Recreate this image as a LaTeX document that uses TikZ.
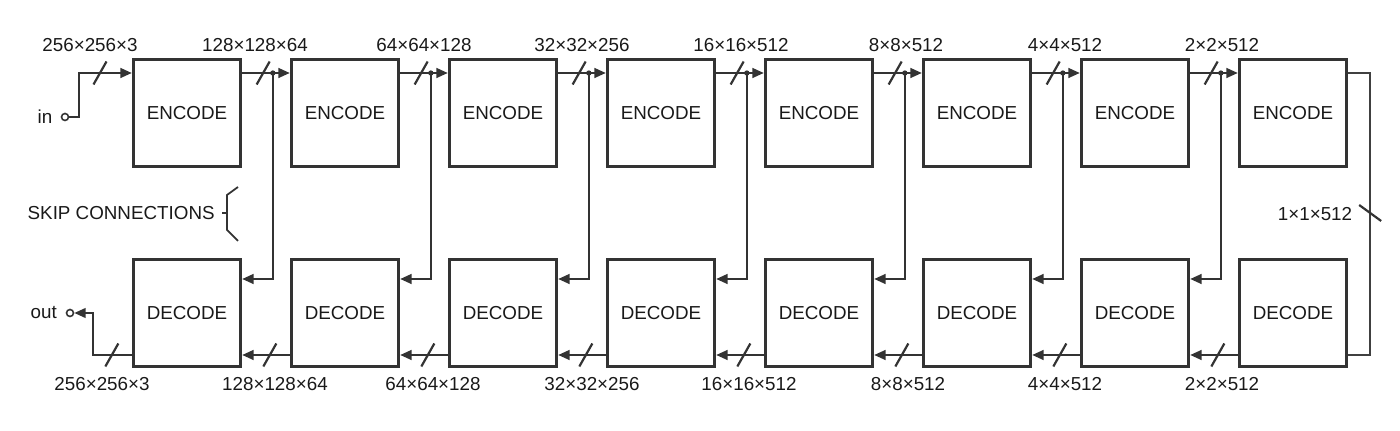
\documentclass[tikz,border=0pt]{standalone}
\usepackage{fontspec}
\setmainfont{Liberation Sans}
\usetikzlibrary{calc,positioning,arrows.meta}
\def\buscut#1{\draw[cut] #1 ++(-6.5,11.5) -- ++(13,-23);}
\def\backcut#1{\draw[cut] #1 ++(-11,-8) -- ++(22,16);}

\begin{document}
\begin{tikzpicture}[x=0.02cm, y=-0.02cm,
	block/.style={draw=black!80, line width=1.9pt, minimum width=2.14cm, minimum height=2.14cm, inner sep=0pt, font=\fontsize{10.7}{12}\selectfont, text=black!90},
	conn/.style={draw=black!80, line width=1.25pt, -{Triangle[length=6.5pt,width=5.5pt]}},
	wire/.style={draw=black!80, line width=1.25pt},
	cut/.style={draw=black!80, line width=1.25pt},
	dim/.style={font=\fontsize{10.7}{12}\selectfont, text=black!90, inner sep=0pt},
	port/.style={draw=black!80, line width=0.9pt, circle, minimum size=0.14cm, inner sep=0pt}]
			%%%%% START %%%%%
			\useasboundingbox (0,0) rectangle (1400,431);
			
			\coordinate (erow) at (0,73);
			\coordinate (srow) at (0,279);
			\coordinate (drow) at (0,355);
			
			\node[block] (e0) at (187,113) {ENCODE};
			\node[block] (e1) at (345,113) {ENCODE};
			\node[block] (e2) at (503,113) {ENCODE};
			\node[block] (e3) at (661,113) {ENCODE};
			\node[block] (e4) at (819,113) {ENCODE};
			\node[block] (e5) at (977,113) {ENCODE};
			\node[block] (e6) at (1135,113) {ENCODE};
			\node[block] (e7) at (1293,113) {ENCODE};
			
			\node[block] (d0) at (187,313) {DECODE};
			\node[block] (d1) at (345,313) {DECODE};
			\node[block] (d2) at (503,313) {DECODE};
			\node[block] (d3) at (661,313) {DECODE};
			\node[block] (d4) at (819,313) {DECODE};
			\node[block] (d5) at (977,313) {DECODE};
			\node[block] (d6) at (1135,313) {DECODE};
			\node[block] (d7) at (1293,313) {DECODE};
			
			% input and output
			\node[port] (inport) at (65,117) {};
			\node[dim, left=0.16cm of inport] (inlbl) {in};
			\draw[conn] (inport.east) -- ++(9.5,0) |- (e0.west |- erow);
			\buscut{(100,73)}
			
			\node[port] (outport) at (70,313) {};
			\node[dim, left=0.17cm of outport] (outlbl) {out};
			\draw[conn] (d0.west |- drow) -- ++(-39,0) |- (outport);
			\buscut{($(d0.west |- drow)+(-20,0)$)}
			
			% encoder chain
			\draw[conn] (e0.east |- erow) -- (e1.west |- erow);
			\draw[conn] (e1.east |- erow) -- (e2.west |- erow);
			\draw[conn] (e2.east |- erow) -- (e3.west |- erow);
			\draw[conn] (e3.east |- erow) -- (e4.west |- erow);
			\draw[conn] (e4.east |- erow) -- (e5.west |- erow);
			\draw[conn] (e5.east |- erow) -- (e6.west |- erow);
			\draw[conn] (e6.east |- erow) -- (e7.west |- erow);
			\buscut{($(e0.east |- erow)+(21,0)$)}
			\buscut{($(e1.east |- erow)+(21,0)$)}
			\buscut{($(e2.east |- erow)+(21,0)$)}
			\buscut{($(e3.east |- erow)+(21,0)$)}
			\buscut{($(e4.east |- erow)+(21,0)$)}
			\buscut{($(e5.east |- erow)+(21,0)$)}
			\buscut{($(e6.east |- erow)+(21,0)$)}
			
			% decoder chain
			\draw[conn] (d1.west |- drow) -- (d0.east |- drow);
			\draw[conn] (d2.west |- drow) -- (d1.east |- drow);
			\draw[conn] (d3.west |- drow) -- (d2.east |- drow);
			\draw[conn] (d4.west |- drow) -- (d3.east |- drow);
			\draw[conn] (d5.west |- drow) -- (d4.east |- drow);
			\draw[conn] (d6.west |- drow) -- (d5.east |- drow);
			\draw[conn] (d7.west |- drow) -- (d6.east |- drow);
			\buscut{($(d1.west |- drow)+(-20,0)$)}
			\buscut{($(d2.west |- drow)+(-20,0)$)}
			\buscut{($(d3.west |- drow)+(-20,0)$)}
			\buscut{($(d4.west |- drow)+(-20,0)$)}
			\buscut{($(d5.west |- drow)+(-20,0)$)}
			\buscut{($(d6.west |- drow)+(-20,0)$)}
			\buscut{($(d7.west |- drow)+(-20,0)$)}
			
			% skip connections
			\coordinate (s0) at ($(e1.west |- erow)+(-17,0)$);
			\coordinate (s1) at ($(e2.west |- erow)+(-17,0)$);
			\coordinate (s2) at ($(e3.west |- erow)+(-17,0)$);
			\coordinate (s3) at ($(e4.west |- erow)+(-17,0)$);
			\coordinate (s4) at ($(e5.west |- erow)+(-17,0)$);
			\coordinate (s5) at ($(e6.west |- erow)+(-17,0)$);
			\coordinate (s6) at ($(e7.west |- erow)+(-17,0)$);
			\draw[conn] (s0) |- (d0.east |- srow);
			\draw[conn] (s1) |- (d1.east |- srow);
			\draw[conn] (s2) |- (d2.east |- srow);
			\draw[conn] (s3) |- (d3.east |- srow);
			\draw[conn] (s4) |- (d4.east |- srow);
			\draw[conn] (s5) |- (d5.east |- srow);
			\draw[conn] (s6) |- (d6.east |- srow);
			\fill[black!80] (s0) circle (1.5pt) (s1) circle (1.5pt) (s2) circle (1.5pt) (s3) circle (1.5pt);
			\fill[black!80] (s4) circle (1.5pt) (s5) circle (1.5pt) (s6) circle (1.5pt);
			
			% bottleneck
			\coordinate (bturn) at ($(e7.east)+(22,0)$);
			\draw[black!75, line width=0.8pt] (e7.east |- erow) -| (bturn) |- (d7.east |- drow);
			\backcut{($(e7.east)!0.5!(d7.east)+(22,0)$)}
			\node[dim] (bnlbl) at (1315,214) {1×1×512};
			
			% sizes
			\node[dim] (t0) at (90,45) {256×256×3};
			\node[dim] (t1) at (255,45) {128×128×64};
			\node[dim] (t2) at (424,45) {64×64×128};
			\node[dim] (t3) at (582,45) {32×32×256};
			\node[dim] (t4) at (741,45) {16×16×512};
			\node[dim] (t5) at (906,45) {8×8×512};
			\node[dim] (t6) at (1065,45) {4×4×512};
			\node[dim] (t7) at (1222,45) {2×2×512};
			
			\node[dim] (b0) at (102,384) {256×256×3};
			\node[dim] (b1) at (275,384) {128×128×64};
			\node[dim] (b2) at (433,384) {64×64×128};
			\node[dim] (b3) at (592,384) {32×32×256};
			\node[dim] (b4) at (749,384) {16×16×512};
			\node[dim] (b5) at (908,384) {8×8×512};
			\node[dim] (b6) at (1065,384) {4×4×512};
			\node[dim] (b7) at (1222,384) {2×2×512};
			
			% skip label with brace
			\node[dim, anchor=east] (skiplbl) at (215,213) {SKIP CONNECTIONS};
			\draw[wire, line width=1pt] (skiplbl.east) ++(7,0) -- ++(5,0) ++(11,-26) -- ++(-11,8) -- ++(0,35) -- ++(11,11);
			%%%%% END %%%%%
		\end{tikzpicture}
\end{document}
